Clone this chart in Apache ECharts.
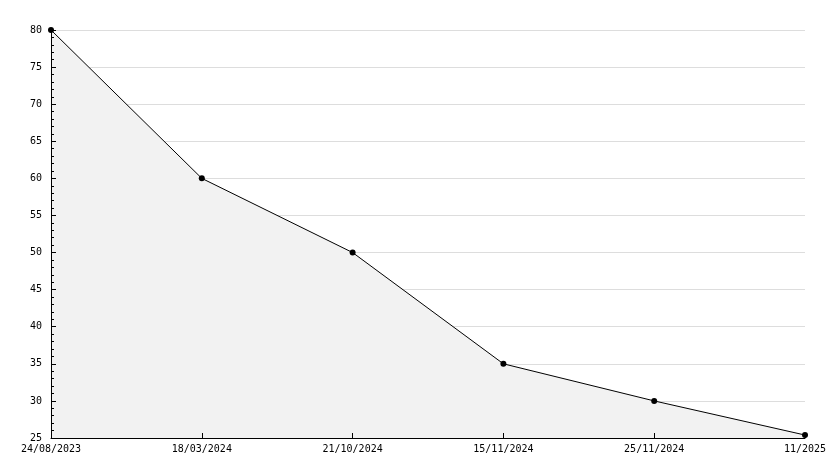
<!DOCTYPE html>
<html><head><meta charset="utf-8">
<script src="https://cdn.jsdelivr.net/npm/echarts@6/dist/echarts.min.js"></script>
<style>html,body{margin:0;padding:0;background:#fff}#c{width:834px;height:468px}</style>
</head><body><div id="c"></div>
<script>
const categories = ['24/08/2023','18/03/2024','21/10/2024','15/11/2024','25/11/2024','11/2025'];
const values = [80, 60, 50, 35, 30, 25.4];
const yMin = 25, yMax = 80, yStep = 5;

const font = 'DejaVu Sans Mono';
const chart = echarts.init(document.getElementById('c'));
chart.setOption({
  animation: false,
  backgroundColor: '#fff',
  grid: {left: 51, right: 29, top: 30, bottom: 30, containLabel: false},
  xAxis: [{
    type: 'category', data: categories, boundaryGap: false, z: 0,
    axisLine: {show: false},
    axisTick: {show: false},
    axisLabel: {show: false},
    splitLine: {show: false}
  }, {
    type: 'category', data: categories, boundaryGap: false, position: 'bottom', z: 10,
    axisLine: {lineStyle: {color: '#000', width: 1}},
    axisTick: {inside: true, length: 5, lineStyle: {color: '#000'}},
    axisLabel: {color: '#000', fontFamily: font, fontSize: 10, margin: 6, interval: 0},
    splitLine: {show: false}
  }],
  yAxis: [{
    type: 'value', min: yMin, max: yMax, interval: yStep, z: 0,
    axisLine: {show: false}, axisTick: {show: false}, axisLabel: {show: false},
    splitLine: {show: true, lineStyle: {color: '#dddddd', width: 1}}
  }, {
    type: 'value', min: yMin, max: yMax, interval: yStep, position: 'left', z: 10,
    axisLine: {show: true, lineStyle: {color: '#000', width: 1}},
    axisTick: {show: true, inside: true, length: 5, lineStyle: {color: '#000'}},
    minorTick: {show: true, splitNumber: 5, length: 3, lineStyle: {color: '#000'}},
    axisLabel: {color: '#000', fontFamily: font, fontSize: 10, margin: 9},
    splitLine: {show: false}
  }],
  series: [{
    type: 'line', data: values, xAxisIndex: 0, yAxisIndex: 0,
    symbol: 'circle', symbolSize: 6,
    itemStyle: {color: '#000'},
    lineStyle: {color: '#000', width: 1},
    areaStyle: {color: '#f2f2f2', opacity: 1}
  }]
});
</script></body></html>
